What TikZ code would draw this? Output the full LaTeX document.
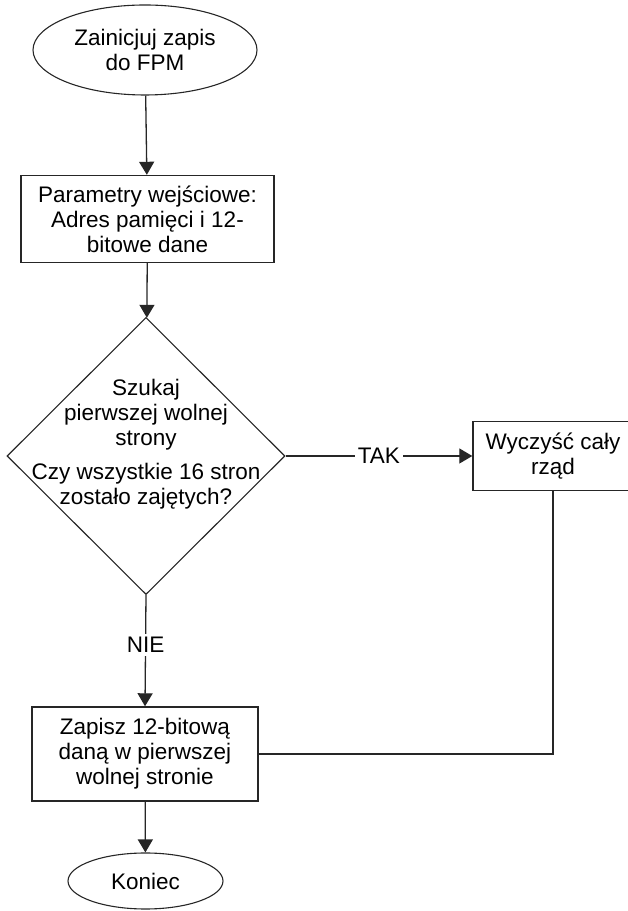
\documentclass[tikz,border=0pt]{standalone}
\usepackage{fontspec}
\setmainfont{Liberation Sans}
\usetikzlibrary{shapes.geometric,arrows.meta}
\begin{document}
\begin{tikzpicture}[x=1pt,y=1pt,
  every node/.style={font=\fontsize{22.5}{25}\selectfont},
  ln/.style={draw=black!85, line width=1.3pt},
  arr/.style={ln, -{Triangle[length=13pt,width=15pt]}},
  term/.style={ellipse, draw=black!85, line width=1.1pt, inner sep=0pt, align=center},
  proc/.style={rectangle, draw=black!85, line width=1.4pt, inner sep=0pt, align=center},
  dec/.style={diamond, draw=black!85, line width=1.1pt, inner sep=0pt},
  lab/.style={fill=white, inner sep=3pt}]
\useasboundingbox (0,0) rectangle (628,911);
\node[term, minimum width=224, minimum height=90] (start) at (145,861) {Zainicjuj zapis\\do FPM};
\node[proc, minimum width=253, minimum height=87] (box1) at (147.5,692) {Parametry wejściowe:\\Adres pamięci i 12-\\bitowe dane};
\node[dec, minimum width=278, minimum height=277] (dia) at (146,455) {};
\node[align=center, inner sep=0pt] (diatext) at (146,467) {Szukaj\\pierwszej wolnej\\strony\\[9pt]Czy wszystkie 16 stron\\zostało zajętych?};
\node[proc, minimum width=160, minimum height=69] (box2) at (553,455) {Wyczyść cały\\rząd};
\node[proc, minimum width=226, minimum height=94] (box3) at (145,157) {Zapisz 12-bitową\\daną w pierwszej\\wolnej stronie};
\node[term, minimum width=155, minimum height=56] (end) at (145.5,30) {Koniec};
\draw[arr] (start) -- (box1);
\draw[arr] (box1) -- (dia);
\draw[arr] (dia.east) -- node[lab]{TAK} (box2.west);
\draw[arr] (dia.south) -- node[lab, pos=0.45]{NIE} (box3.north);
\draw[ln] (box2.south) |- (box3.east);
\draw[arr] (box3) -- (end);
\end{tikzpicture}
\end{document}
